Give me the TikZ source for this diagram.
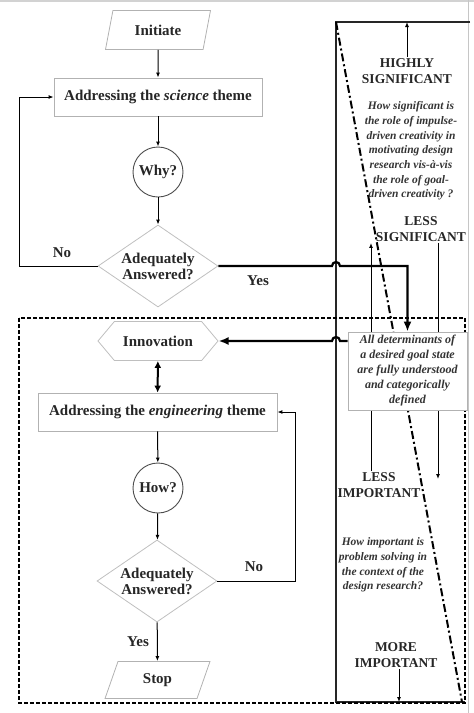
\documentclass[tikz,border=0pt]{standalone}
\usepackage{fontspec}
\setmainfont{Liberation Serif}
\usetikzlibrary{shapes.geometric, shapes.symbols, arrows.meta, positioning}

\begin{document}
\begin{tikzpicture}[x=1pt,y=-1pt,
  >={Latex[length=5pt,width=4pt]},
  txt/.style={font=\fontsize{15}{16}\selectfont\bfseries, text=black!85},
  boite/.style={txt, draw=gray!60, line width=0.8pt, minimum height=38pt, inner sep=0pt},
  para/.style={txt, trapezium, trapezium left angle=70, trapezium right angle=110,
    trapezium stretches=true, draw=gray!60, line width=0.8pt, minimum width=105pt, minimum height=39pt, inner sep=0pt},
  rond/.style={txt, circle, draw=black!70, line width=0.9pt, minimum size=50pt, inner sep=0pt},
  losange/.style={txt, diamond, aspect=1.46, draw=gray!50, line width=0.8pt, align=center, inner sep=0pt,
    minimum width=120pt, minimum height=82pt},
  hexa/.style={txt, signal, signal to=west and east, signal pointer angle=100, draw=gray!50,
    line width=0.8pt, minimum width=120pt, minimum height=39pt, inner sep=0pt},
  majus/.style={font=\fontsize{13.5}{16.5}\selectfont\bfseries, align=center, text=black!85, inner sep=1pt},
  quest/.style={font=\fontsize{11.5}{14.7}\selectfont\bfseries\itshape, align=center, text=black!80, inner sep=0pt},
  fleche/.style={->, line width=1pt},
  grosse/.style={line width=2.2pt, -{Latex[length=10pt,width=8pt]}}]
\useasboundingbox (0,0) rectangle (474,713);
\fill[gray!35] (0,0) rectangle (474,2);
\draw[gray!45, line width=1pt] (468.5,0) -- (468.5,713);

\coordinate (haut) at (336,22);%le panneau
\coordinate (bas) at (336,702);
\coordinate (gauche) at (19,0);
\coordinate (droite) at (295,0);

\draw[line width=1.2pt, black!85] (470,22) -- (haut) -- (bas) -- (465,702);
\draw[line width=2pt, dash pattern=on 8pt off 3pt on 2pt off 3pt] (haut) -- (462,702);
\draw[line width=2.4pt, dash pattern=on 4pt off 2pt] (19,318) rectangle (465,703);

% la partie science
\node[para] (init) at (158,30) {Initiate};
\node[boite, minimum width=208pt] (science) at (158,97) {Addressing the \textit{science} theme};
\node[rond] (why) at (158,172) {Why?};
\node[losange] (q1) at (158,266) {Adequately\\Answered?};

\draw[fleche] (init) -- (science);
\draw[fleche] (science) -- (why);
\draw[fleche] (why) -- (q1);
\draw[fleche] (q1.west) -- (q1.west -| gauche) |- (science.west);
\node[txt] (no1) at (62,253) {No};
\node[txt] (yes1) at (258,281) {Yes};

% la partie engineering
\node[hexa] (innov) at (158,341) {Innovation};
\node[boite, minimum width=239pt] (engin) at (157.5,412) {Addressing the \textit{engineering} theme};
\node[rond] (how) at (158,488) {How?};
\node[losange] (q2) at (157,581) {Adequately\\Answered?};
\node[para, minimum height=37pt] (stop) at (157.5,680) {Stop};

\draw[line width=2pt, {Latex[length=7pt,width=7pt]}-{Latex[length=7pt,width=7pt]}] (innov) -- (engin);
\draw[fleche] (engin) -- (how);
\draw[fleche] (how) -- (q2);
\draw[fleche] (q2) -- (stop);
\draw[fleche] (q2.east) -- (q2.east -| droite) |- (engin.east);
\node[txt] (no2) at (254,567) {No};
\node[txt] (yes2) at (138,642) {Yes};

% le panneau de droite
\node[majus] (hsig) at (407,71) {HIGHLY\\SIGNIFICANT};
\node[quest] (qsig) at (411,151) {How significant is\\the role of impulse-\\driven creativity in\\motivating design\\research vis-à-vis\\the role of goal-\\driven creativity ?};
\node[majus] (lsig) at (421,229) {LESS\\SIGNIFICANT};
\node[majus] (limp) at (379,485) {LESS\\IMPORTANT};
\node[quest] (qimp) at (383,565) {How important is\\problem solving in\\the context of the\\design research?};
\node[majus] (mimp) at (396,655) {MORE\\IMPORTANT};

\draw[fleche] (hsig.north) -- (hsig.north |- haut);
\draw[fleche] ([xshift=-8pt]limp.north) -- ([xshift=-8pt]limp.north |- lsig.south);
\draw[fleche] ([xshift=17pt]lsig.south) -- ([xshift=17pt,yshift=-8pt]lsig.south |- limp.north);
\draw[fleche] ([xshift=3pt]mimp.south) -- ([xshift=3pt]mimp.south |- bas);

\node[quest, draw=gray!60, line width=0.8pt, fill=white, minimum width=119pt, minimum height=78pt,
  font=\fontsize{12}{15}\selectfont\bfseries\itshape] (goal) at (407.5,371)
  {All determinants of\\a desired goal state\\are fully understood\\and categorically\\defined};

\draw[grosse] (q1.east) -- ([xshift=-4pt]haut |- q1.east) arc[start angle=180, end angle=0, radius=4pt]
  -- (goal.north |- q1.east) -- (goal.north);%les fleches epaisses
\draw[grosse] (goal.west |- innov.east) -- ([xshift=4pt]haut |- innov.east)
  arc[start angle=0, end angle=180, radius=4pt] -- (innov.east);
\end{tikzpicture}
\end{document}
